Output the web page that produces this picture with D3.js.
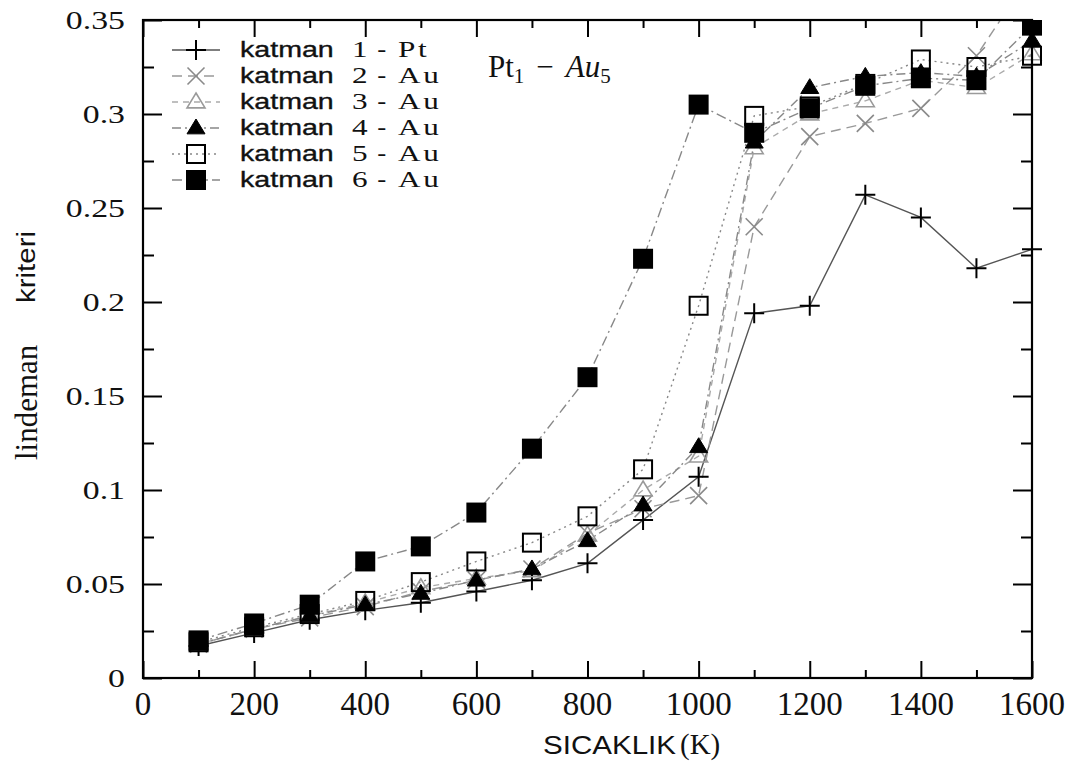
<!DOCTYPE html>
<html><head><meta charset="utf-8">
<script src="https://cdn.jsdelivr.net/npm/d3@7"></script>
<style>body{margin:0;background:#fff}svg{display:block}</style>
</head><body>
<svg id="chart" width="1080" height="767"></svg>
<script>
// ---- data ----
const temps = [100,200,300,400,500,600,700,800,900,1000,1100,1200,1300,1400,1500,1600];
const katman1Pt = [0.017,0.024,0.031,0.036,0.040,0.046,0.052,0.061,0.084,0.107,0.194,0.198,0.257,0.245,0.218,0.228];
const katman2Au = [0.018,0.026,0.032,0.038,0.046,0.052,0.058,0.077,0.090,0.097,0.240,0.288,0.295,0.303,0.331,0.375];
const katman3Au = [0.018,0.026,0.033,0.040,0.048,0.053,0.057,0.076,0.100,0.118,0.282,0.300,0.307,0.318,0.314,0.332];
const katman4Au = [0.018,0.026,0.033,0.039,0.045,0.052,0.058,0.073,0.092,0.123,0.285,0.314,0.320,0.322,0.320,0.339];
const katman5Au = [0.019,0.027,0.034,0.041,0.051,0.062,0.072,0.086,0.111,0.198,0.299,0.304,0.316,0.329,0.325,0.331];
const katman6Au = [0.020,0.029,0.039,0.062,0.070,0.088,0.122,0.160,0.223,0.305,0.290,0.303,0.315,0.319,0.318,0.347];
const seriesNames = [["1","Pt"],["2","Au"],["3","Au"],["4","Au"],["5","Au"],["6","Au"]];
const xTicks = [0,200,400,600,800,1000,1200,1400,1600];
const xMinor = [100,300,500,700,900,1100,1300,1500];
const yTicks = [0,0.05,0.1,0.15,0.2,0.25,0.3,0.35];
const yTickLabels = ["0","0.05","0.1","0.15","0.2","0.25","0.3","0.35"];
const yMinor = [0.025,0.075,0.125,0.175,0.225,0.275,0.325];

// ---- styles ----
const styles = [
  {stroke:"#555", dash:null, marker:"plus", mcol:"#000"},
  {stroke:"#999", dash:"10,6", marker:"cross", mcol:"#8a8a8a"},
  {stroke:"#aaa", dash:"6,5", marker:"tri", mcol:"#9a9a9a"},
  {stroke:"#888", dash:"9,4,2,4", marker:"trifill", mcol:"#000"},
  {stroke:"#888", dash:"2,4", marker:"sq", mcol:"#000"},
  {stroke:"#888", dash:"10,4,2,4", marker:"sqfill", mcol:"#000"}
];
const allSeries = [katman1Pt,katman2Au,katman3Au,katman4Au,katman5Au,katman6Au];

const svg = d3.select("#chart");
const L=143, R=1032, T=20, B=678;
const x = d3.scaleLinear().domain([0,1600]).range([L,R]);
const y = d3.scaleLinear().domain([0,0.35]).range([B,T]);

svg.append("defs").append("clipPath").attr("id","clip")
  .append("rect").attr("x",L).attr("y",T).attr("width",R-L).attr("height",B-T);
svg.select("defs").append("clipPath").attr("id","clipm")
  .append("rect").attr("x",0).attr("y",T).attr("width",1080).attr("height",B-T);

// ticks via axes (inward)
function tickAxis(axisFn, scale, vals, size, tr){
  svg.append("g").attr("transform",tr)
    .call(axisFn(scale).tickValues(vals).tickSize(size).tickFormat(""))
    .call(g=>{g.select(".domain").remove(); g.selectAll("line").attr("stroke","#000").attr("stroke-width",2);});
}
tickAxis(d3.axisBottom, x, xTicks, -17, `translate(0,${B})`);
tickAxis(d3.axisBottom, x, xMinor, -8, `translate(0,${B})`);
tickAxis(d3.axisTop, x, xTicks, -17, `translate(0,${T})`);
tickAxis(d3.axisTop, x, xMinor, -8, `translate(0,${T})`);
tickAxis(d3.axisLeft, y, yTicks, -19, `translate(${L},0)`);
tickAxis(d3.axisLeft, y, yMinor, -11, `translate(${L},0)`);
tickAxis(d3.axisRight, y, yTicks, -19, `translate(${R},0)`);
tickAxis(d3.axisRight, y, yMinor, -11, `translate(${R},0)`);

// tick labels
svg.append("g").selectAll("text").data(xTicks).join("text")
  .attr("x",d=>x(d)).attr("y",B+37).attr("text-anchor","middle")
  .attr("font-family","Liberation Serif, serif").attr("font-size",33).attr("fill","#111")
  .text(d=>d);
svg.append("g").selectAll("text").data(yTicks).join("text")
  .attr("transform",d=>`translate(125,${y(d)+8.5}) scale(1.3,1)`).attr("text-anchor","end")
  .attr("font-family","Liberation Serif, serif").attr("font-size",26).attr("fill","#111")
  .text((d,i)=>yTickLabels[i]);

// axis titles
svg.append("text").attr("x",543).attr("y",754).attr("font-family","Liberation Sans Narrow, Liberation Sans, sans-serif")
  .attr("font-size",25).attr("textLength",133).attr("lengthAdjust","spacingAndGlyphs").attr("fill","#111").text("SICAKLIK");
svg.append("text").attr("x",680).attr("y",754).attr("font-family","Liberation Serif, serif")
  .attr("font-size",29).attr("fill","#111").text("(K)");
svg.append("text").attr("transform","translate(37,460) rotate(-90)").attr("font-family","Liberation Serif, serif")
  .attr("font-size",31).attr("fill","#111").text("lindeman");
svg.append("text").attr("transform","translate(35,303) rotate(-90)").attr("font-family","Liberation Sans Narrow, Liberation Sans, sans-serif")
  .attr("font-size",25).attr("textLength",72).attr("lengthAdjust","spacingAndGlyphs").attr("fill","#111").text("kriteri");

// lines
const line = d3.line().x((d,i)=>x(temps[i])).y(d=>y(d));
const gl = svg.append("g").attr("clip-path","url(#clip)");
allSeries.forEach((s,k)=>{
  gl.append("path").attr("d",line(s)).attr("fill","none")
    .attr("stroke",styles[k].stroke).attr("stroke-width",1.4)
    .attr("stroke-dasharray",styles[k].dash);
});

// markers
function drawMarker(g, type, col, cx, cy){
  const s=10;
  if(type==="plus"){
    g.append("path").attr("d",`M${cx-s},${cy}H${cx+s}M${cx},${cy-s}V${cy+s}`).attr("stroke",col).attr("stroke-width",2);
  } else if(type==="cross"){
    const a=8.5;
    g.append("path").attr("d",`M${cx-a},${cy-a}L${cx+a},${cy+a}M${cx-a},${cy+a}L${cx+a},${cy-a}`).attr("stroke",col).attr("stroke-width",1.6);
  } else if(type==="tri"||type==="trifill"){
    const h=9;
    g.append("path").attr("d",`M${cx},${cy-h}L${cx+h},${cy+h*0.65}L${cx-h},${cy+h*0.65}Z`)
      .attr("fill",type==="trifill"?col:"none").attr("stroke",col).attr("stroke-width",type==="tri"?1.6:1);
  } else if(type==="sq"){
    g.append("rect").attr("x",cx-9).attr("y",cy-9).attr("width",18).attr("height",18)
      .attr("fill","none").attr("stroke",col).attr("stroke-width",2);
  } else {
    g.append("rect").attr("x",cx-10).attr("y",cy-10).attr("width",20).attr("height",20).attr("fill",col);
  }
}
const gm = svg.append("g").attr("clip-path","url(#clipm)");
allSeries.forEach((s,k)=>{
  s.forEach((v,i)=>{ if(v<=0.35) drawMarker(gm, styles[k].marker, styles[k].mcol, x(temps[i]), y(v)); });
});

// frame
svg.append("rect").attr("x",L).attr("y",T).attr("width",R-L).attr("height",B-T)
  .attr("fill","none").attr("stroke","#000").attr("stroke-width",2.2);

// legend
const lg = svg.append("g");
seriesNames.forEach((nm,k)=>{
  const cy = 50 + k*26;
  lg.append("line").attr("x1",172).attr("x2",220).attr("y1",cy).attr("y2",cy)
    .attr("stroke",styles[k].stroke).attr("stroke-width",1.4).attr("stroke-dasharray",styles[k].dash);
  drawMarker(lg, styles[k].marker, styles[k].mcol, 196, cy);
  lg.append("text").attr("transform",`translate(240,${cy+7}) scale(1.3,1)`)
    .attr("font-family","Liberation Sans, sans-serif").attr("font-size",22).attr("stroke","#111").attr("stroke-width",0.35)
    .attr("fill","#111").text("katman");
  lg.append("text").attr("transform",`translate(352,${cy+7}) scale(1.3,1)`)
    .attr("font-family","Liberation Serif, serif").attr("font-size",24).attr("fill","#111").text(nm[0]);
  lg.append("text").attr("transform",`translate(377,${cy+7}) scale(1.3,1)`)
    .attr("font-family","Liberation Sans, sans-serif").attr("font-size",22).attr("fill","#111").text("-");
  lg.append("text").attr("transform",`translate(398,${cy+7}) scale(1.3,1)`)
    .attr("font-family","Liberation Serif, serif").attr("font-size",24).attr("letter-spacing",2).attr("fill","#111").text(nm[1]);
});

// annotation
const ann = svg.append("text").attr("x",488).attr("y",77).attr("font-family","Liberation Serif, serif")
  .attr("font-size",31).attr("fill","#111");
ann.append("tspan").text("Pt");
ann.append("tspan").attr("font-size",21).attr("dy",6).text("1");
ann.append("tspan").attr("dy",-6).attr("dx",12).text("−");
ann.append("tspan").attr("dx",12).attr("font-style","italic").text("Au");
ann.append("tspan").attr("font-size",21).attr("dy",6).text("5");
</script>
</body></html>
